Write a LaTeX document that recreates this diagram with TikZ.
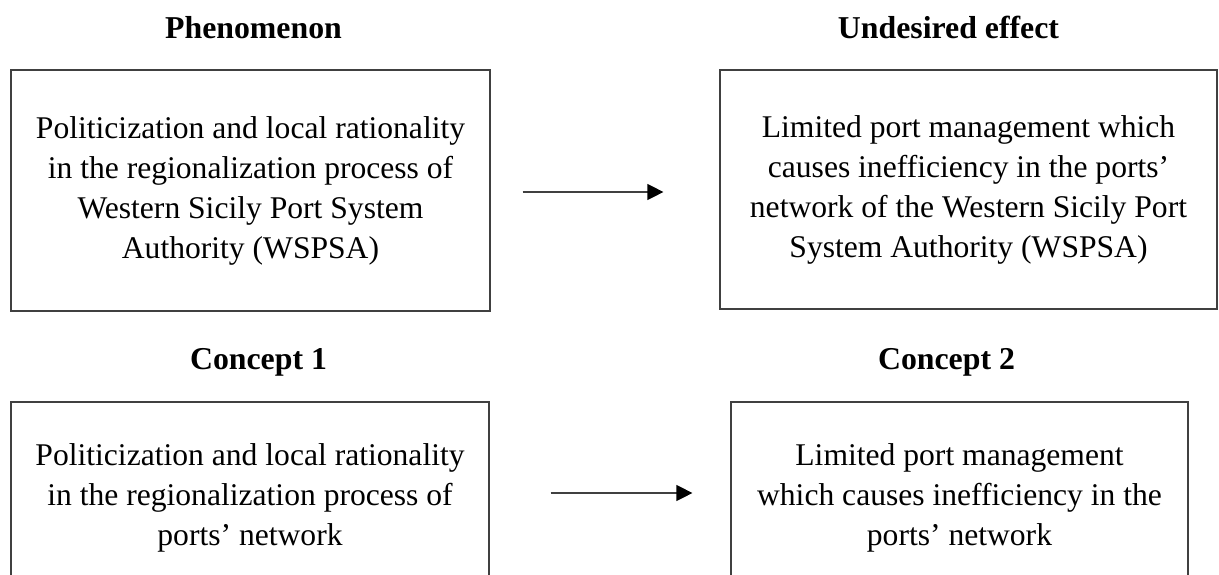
\documentclass[tikz,border=0pt]{standalone}
\usepackage{fontspec}
\setmainfont{Liberation Serif}
\usetikzlibrary{arrows.meta}
\begin{document}
\begin{tikzpicture}[x=1pt,y=-1pt,
  box/.style={draw=black!75, line width=1.2pt, align=center, inner sep=0pt,
    font=\fontsize{31.6}{40}\selectfont},
  title/.style={font=\fontsize{31.8}{38}\selectfont\bfseries, anchor=base, inner sep=0pt},
  link/.style={draw=black!75, line width=1.2pt, -{Triangle[length=16pt,width=16pt,color=black]}}]
\useasboundingbox (0,0) rectangle (1219,574);
\clip (0,0) rectangle (1219,574);
\fill[white] (0,0) rectangle (1219,574);
\node[title] (t1) at (253.5,38) {Phenomenon};
\node[title] (t2) at (948.5,38) {Undesired effect};
\node[title] (t3) at (258.5,369) {Concept 1};
\node[title] (t4) at (946.5,369) {Concept 2};
\node[box, minimum width=479pt, minimum height=241pt] (a) at (250.5,190.5)
  {Politicization and local rationality\\in the regionalization process of\\Western Sicily Port System\\Authority (WSPSA)};
\node[box, minimum width=497pt, minimum height=239pt] (b) at (968.5,189.5)
  {Limited port management which\\causes inefficiency in the ports’\\network of the Western Sicily Port\\System Authority (WSPSA)};
\node[box, minimum width=478pt, minimum height=192pt] (c) at (250,498)
  {Politicization and local rationality\\in the regionalization process of\\ports’ network};
\node[box, minimum width=457pt, minimum height=192pt] (d) at (959.5,498)
  {Limited port management\\which causes inefficiency in the\\ports’ network};
\draw[link, shorten <=32pt, shorten >=56pt] ([yshift=-1.5pt]a.east) -- ([yshift=-1.5pt]a.east -| b.west);
\draw[link, shorten <=61pt, shorten >=38pt] ([yshift=5pt]c.east) -- ([yshift=5pt]c.east -| d.west);
\end{tikzpicture}
\end{document}
